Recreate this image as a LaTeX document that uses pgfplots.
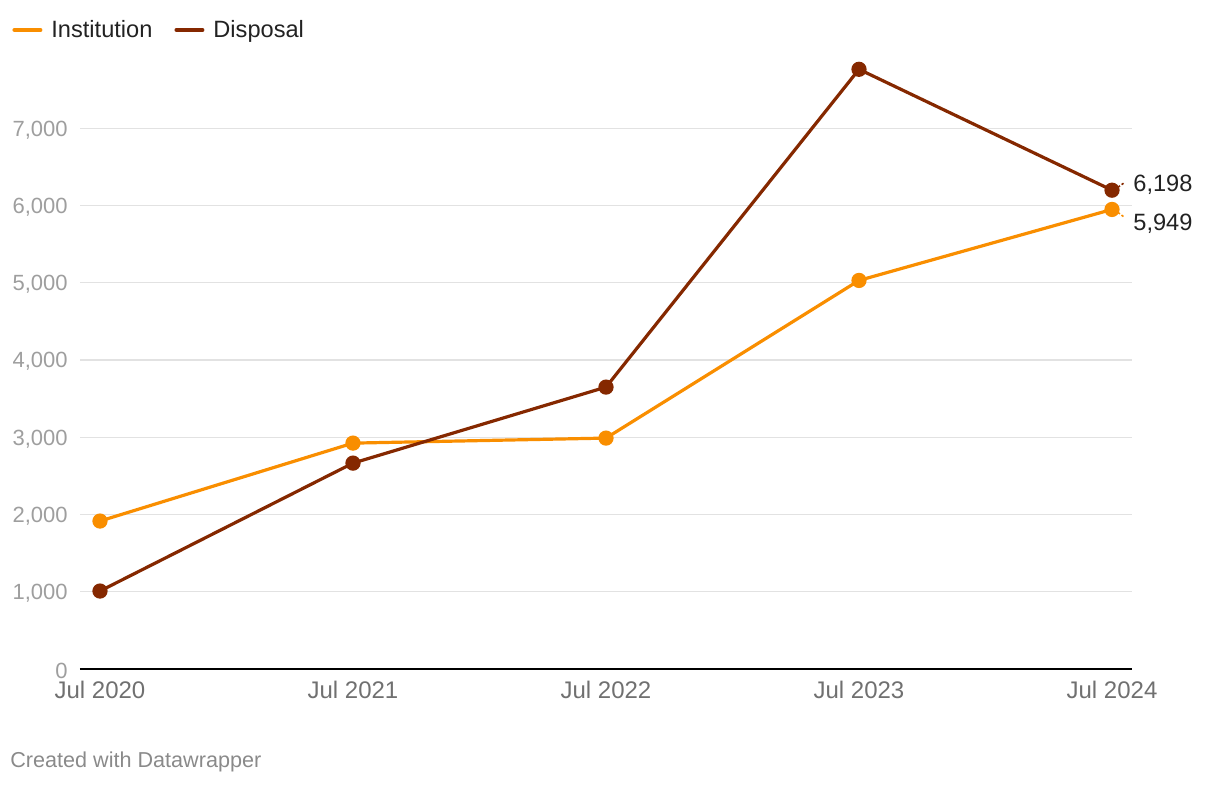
\documentclass[border=0pt]{standalone}
\usepackage{fontspec}
\setmainfont{Liberation Sans}
\usepackage{pgfplots}
\pgfplotsset{compat=1.18}
\definecolor{instc}{HTML}{F98E00}
\definecolor{dispc}{HTML}{852800}
\definecolor{gridc}{HTML}{E2E2E2}
\definecolor{ylab}{HTML}{9E9E9E}
\definecolor{xlab}{HTML}{707070}
\definecolor{txt}{HTML}{222222}
\definecolor{foot}{HTML}{8A8A8A}
\begin{document}
\begin{tikzpicture}
\useasboundingbox (-40pt,-58.5pt) rectangle (570pt,334.5pt);
\begin{axis}[
  at={(0pt,0pt)}, anchor=south west,
  scale only axis, width=526pt, height=309pt,
  xmin=-0.079, xmax=4.079, ymin=0, ymax=8000,
  clip=false,
  separate axis lines,
  axis x line*=bottom, axis y line*=left,
  x axis line style={black, line width=1pt, -},
  y axis line style={draw=none},
  major tick length=0pt,
  xtick={0,1,2,3,4},
  xticklabels={Jul 2020,Jul 2021,Jul 2022,Jul 2023,Jul 2024},
  ytick={0,1000,2000,3000,4000,5000,6000,7000},
  ymajorgrids, grid style={gridc, line width=0.6pt},
  /pgf/number format/assume math mode=true,
  /pgf/number format/1000 sep={,},
  scaled y ticks=false,
  yticklabel style={font=\fontsize{11}{13}\selectfont, text=ylab, inner sep=0pt, anchor=east, xshift=-6pt, yshift=-0.8pt},
  xticklabel style={font=\fontsize{12}{14}\selectfont, text=xlab, inner sep=0pt, anchor=north, yshift=-6pt},
  legend columns=2,
  legend style={at={(-0.0646,1.034)}, anchor=west, draw=none, fill=none, inner sep=0pt,
    nodes={inner sep=0pt, font=\fontsize{11.8}{14}\selectfont, text=txt},
    /tikz/every odd column/.append style={column sep=4.5pt},
    /tikz/every even column/.append style={column sep=11pt}},
  legend image code/.code={\draw[#1, mark=none, line width=2pt, line cap=round] (0pt,0pt) -- (13pt,0pt);},
]
\addplot[instc, line width=1.6pt, mark=*, mark size=3pt, mark options={fill=instc, draw=instc}]
  coordinates {(0,1915) (1,2924) (2,2989) (3,5030) (4,5949)};
\addlegendentry{Institution}
\addplot[dispc, line width=1.6pt, mark=*, mark size=3pt, mark options={fill=dispc, draw=dispc}]
  coordinates {(0,1009) (1,2665) (2,3649) (3,7763) (4,6198)};
\addlegendentry{Disposal}
\draw[dispc, line width=0.8pt, dash pattern=on 1.2pt off 1pt] ([xshift=3pt,yshift=1.5pt]axis cs:4,6198) -- ([xshift=6.5pt,yshift=4pt]axis cs:4,6198);
\draw[instc, line width=0.8pt, dash pattern=on 1.2pt off 1pt] ([xshift=3pt,yshift=-1.5pt]axis cs:4,5949) -- ([xshift=6pt,yshift=-3.8pt]axis cs:4,5949);
\node[anchor=west, inner sep=0pt, font=\fontsize{11.8}{14}\selectfont, text=txt] at ([xshift=10.5pt,yshift=2.5pt]axis cs:4,6198) {6,198};
\node[anchor=west, inner sep=0pt, font=\fontsize{11.8}{14}\selectfont, text=txt] at ([xshift=10.5pt,yshift=-7pt]axis cs:4,5949) {5,949};
\end{axis}
\node[anchor=west, inner sep=0pt, font=\fontsize{10.8}{12}\selectfont, text=foot] at (-35pt,-46.5pt) {Created with Datawrapper};
\end{tikzpicture}
\end{document}
